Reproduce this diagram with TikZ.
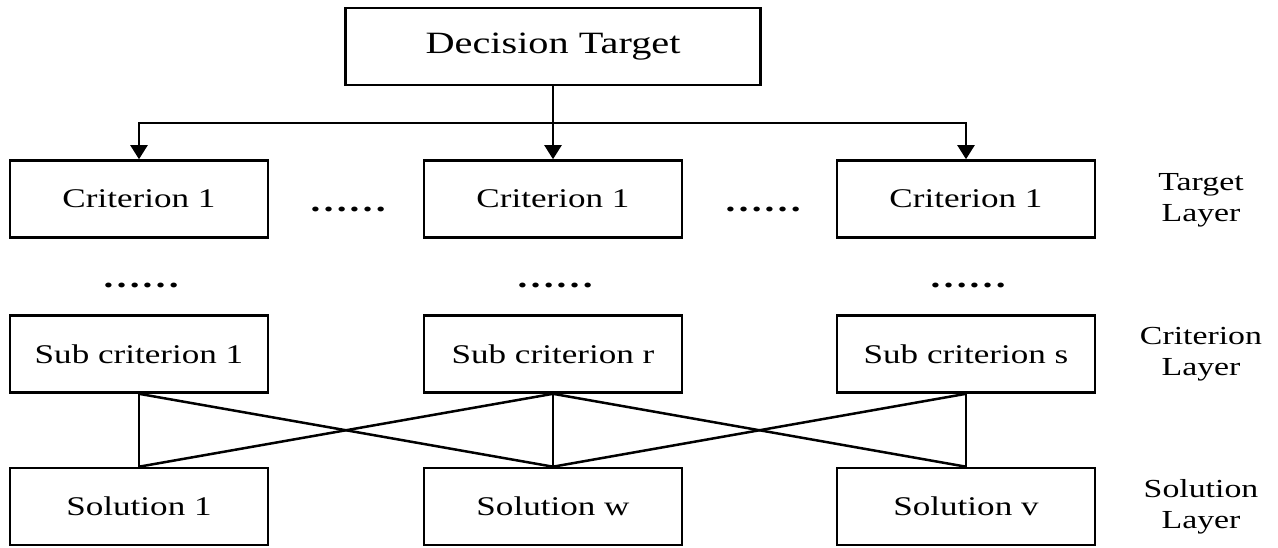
\documentclass[tikz,border=0pt]{standalone}
\usepackage{fontspec}
\setmainfont[FakeStretch=1.3]{Liberation Serif}
\usetikzlibrary{arrows.meta}
\begin{document}
\begin{tikzpicture}[x=1pt,y=1pt,
  box/.style={draw,line width=2.6pt,minimum width=258pt,minimum height=77pt,inner sep=0pt,font=\fontsize{27}{30}\selectfont},
  topbox/.style={box,minimum width=415pt,font=\fontsize{31}{34}\selectfont},
  lbl/.style={align=center,font=\fontsize{26}{31}\selectfont},
  dots/.style={font=\bfseries\fontsize{30}{30}\selectfont,inner sep=0pt},
  arr/.style={line width=2.2pt,-{Triangle[length=14pt,width=17pt]}},
  link/.style={line width=2.5pt},
  vlink/.style={line width=2pt}]
\useasboundingbox (0,0) rectangle (1278,-547);
\node[topbox] (top) at (553,-46.5) {Decision Target};
\node[box] (c1) at (139,-199) {Criterion 1};
\node[box] (c2) at (553,-199) {Criterion 1};
\node[box] (c3) at (966,-199) {Criterion 1};
\node[dots] (d1) at (348,-209) {……};
\node[dots] (d2) at (763,-209) {……};
\node[dots] (e1) at (141,-285) {……};
\node[dots] (e2) at (555,-285) {……};
\node[dots] (e3) at (968,-285) {……};
\node[box] (s1) at (139,-354) {Sub criterion 1};
\node[box] (s2) at (553,-354) {Sub criterion r};
\node[box] (s3) at (966,-354) {Sub criterion s};
\node[box] (p1) at (139,-506.5) {Solution 1};
\node[box] (p2) at (553,-506.5) {Solution w};
\node[box] (p3) at (966,-506.5) {Solution v};
\node[lbl] (l1) at (1201,-200) {Target\\Layer};
\node[lbl] (l2) at (1201,-354) {Criterion\\Layer};
\node[lbl] (l3) at (1201,-507) {Solution\\Layer};
\coordinate (j) at (553,-123);
\draw[arr] (top.south) -- (c2.north);
\draw[arr] (j) -| (c1.north);
\draw[arr] (j) -| (c3.north);
\draw[vlink] (s1.south) -- (p1.north);
\draw[vlink] (s2.south) -- (p2.north);
\draw[vlink] (s3.south) -- (p3.north);
\draw[link] (s1.south) -- (p2.north);
\draw[link] (s2.south) -- (p1.north);
\draw[link] (s2.south) -- (p3.north);
\draw[link] (s3.south) -- (p2.north);
\end{tikzpicture}
\end{document}
